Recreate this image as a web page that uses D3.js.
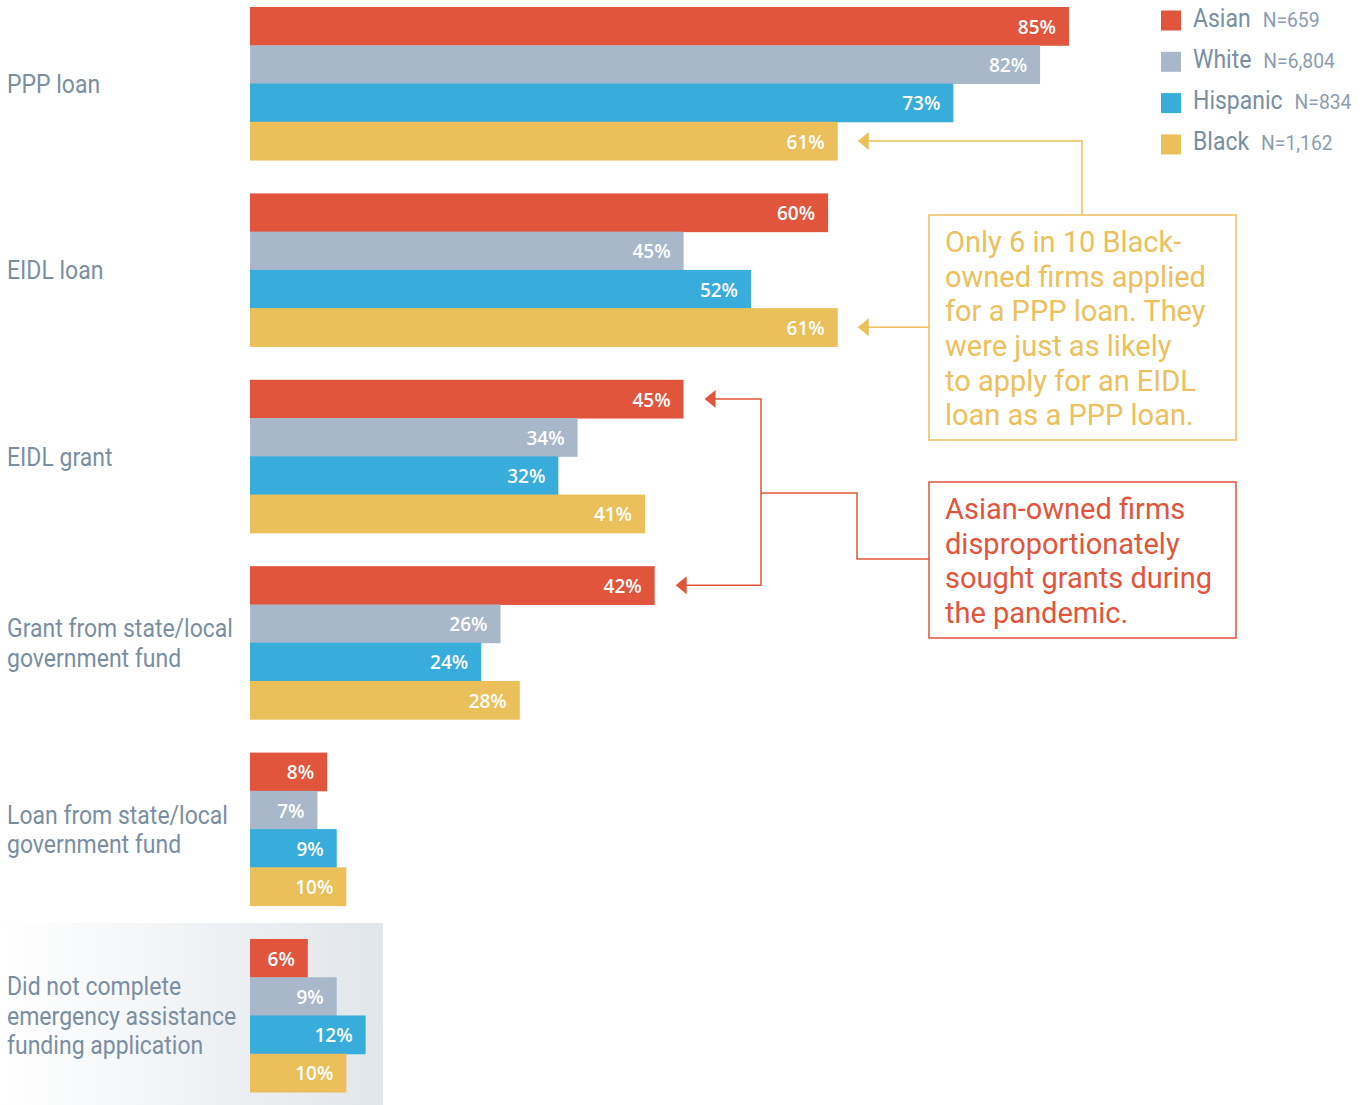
<!DOCTYPE html>
<html>
<head>
<meta charset="utf-8">
<script src="https://cdn.jsdelivr.net/npm/d3@7"></script>
<style>
  body { margin: 0; background: #fff; }
  text { font-family: Roboto, "Open Sans", sans-serif; }
</style>
</head>
<body>
<div id="chart"></div>
<script>
var categories = [
  ["PPP loan"],
  ["EIDL loan"],
  ["EIDL grant"],
  ["Grant from state/local", "government fund"],
  ["Loan from state/local", "government fund"],
  ["Did not complete", "emergency assistance", "funding application"]
];
var races = ["Asian", "White", "Hispanic", "Black"];
var raceN = ["N=659", "N=6,804", "N=834", "N=1,162"];
var raceColors = ["#e0553b", "#a9b7ca", "#38acdb", "#ebbf59"];

var asian    = [85, 60, 45, 42, 8, 6];
var white    = [82, 45, 34, 26, 7, 9];
var hispanic = [73, 52, 32, 24, 9, 12];
var black    = [61, 61, 41, 28, 10, 10];
var seriesVals = [asian, white, hispanic, black];

var note1 = ["Only 6 in 10 Black-", "owned firms applied", "for a PPP loan. They",
             "were just as likely", "to apply for an EIDL", "loan as a PPP loan."];
var note2 = ["Asian-owned firms", "disproportionately", "sought grants during", "the pandemic."];

var W = 1365, H = 1105;
var svg = d3.select("#chart").append("svg")
  .attr("width", W).attr("height", H);

var defs = svg.append("defs");
var grad = defs.append("linearGradient").attr("id", "bg").attr("x1", "0").attr("x2", "1");
grad.append("stop").attr("offset", "0").attr("stop-color", "#ffffff");
grad.append("stop").attr("offset", "1").attr("stop-color", "#e1e6ea");

var x = d3.scaleLinear().domain([0, 100]).range([250, 1213.5]);
var y = d3.scaleBand().domain(d3.range(categories.length))
  .range([7, 1092]).paddingInner(0.179).paddingOuter(0);
var yi = d3.scaleBand().domain(races).range([0, y.bandwidth()]);

// shaded box behind the last group
svg.append("rect")
  .attr("x", 0).attr("y", y(5) - 16)
  .attr("width", 383).attr("height", H - (y(5) - 16))
  .attr("fill", "url(#bg)");

var groups = svg.selectAll(".grp").data(categories).join("g")
  .attr("class", "grp")
  .attr("transform", function(d, i) { return "translate(0," + y(i) + ")"; });

groups.each(function(cat, ci) {
  var g = d3.select(this);
  races.forEach(function(r, ri) {
    var v = seriesVals[ri][ci];
    g.append("rect")
      .attr("x", x(0)).attr("y", yi(r))
      .attr("width", x(v) - x(0)).attr("height", yi.bandwidth() + 0.5)
      .attr("fill", raceColors[ri]);
    g.append("text")
      .attr("x", x(v) - 13).attr("y", yi(r) + yi.bandwidth() / 2)
      .attr("dy", "0.4em")
      .attr("text-anchor", "end")
      .style("font-family", "'Open Sans', sans-serif")
      .style("font-weight", 600)
      .style("font-size", "19px")
      .attr("fill", "#fff")
      .text(v + "%");
  });
  var lh = 29.5;
  var top = y.bandwidth() / 2 - (cat.length - 1) * lh / 2;
  cat.forEach(function(line, li) {
    g.append("text")
      .attr("transform", "translate(7," + (top + li * lh) + ") scale(0.92,1)")
      .attr("dy", "0.37em")
      .style("font-size", "25px")
      .attr("fill", "#7a8ea2")
      .text(line);
  });
});

// legend
var legend = svg.append("g");
races.forEach(function(r, i) {
  var ly = 20.5 + i * 41.3;
  legend.append("rect")
    .attr("x", 1161).attr("y", ly - 10).attr("width", 20).attr("height", 20)
    .attr("fill", raceColors[i]);
  var t = legend.append("text")
    .attr("transform", "translate(1193," + ly + ") scale(0.92,1)")
    .attr("dy", "0.38em");
  t.append("tspan").style("font-size", "25px").attr("fill", "#7a8ea2").text(r);
  t.append("tspan").attr("dx", "13").style("font-size", "21px").attr("fill", "#8c9db0").text(raceN[i]);
});

function arrow(color, tipX, tipY) {
  svg.append("path")
    .attr("d", "M" + tipX + "," + tipY + "l11,-9v18z")
    .attr("fill", color);
}

function noteBox(lines, color, bx, by, bw, bh) {
  svg.append("rect")
    .attr("x", bx).attr("y", by).attr("width", bw).attr("height", bh)
    .attr("fill", "#fff").attr("stroke", color).attr("stroke-width", 1.5);
  lines.forEach(function(l, i) {
    svg.append("text")
      .attr("x", bx + 16).attr("y", by + 27 + i * 34.6)
      .attr("dy", "0.35em")
      .style("font-size", "29px")
      .attr("fill", color)
      .text(l);
  });
}

// yellow note: Black PPP and Black EIDL loan
var yel = "#ecc05c";
var yB0 = y(0) + yi("Black") + yi.bandwidth() / 2;
var yB1 = y(1) + yi("Black") + yi.bandwidth() / 2;
var tip0 = x(black[0]) + 20, tip1 = x(black[1]) + 20;
svg.append("path")
  .attr("d", "M1082,215V" + yB0 + "H" + (tip0 + 8))
  .attr("fill", "none").attr("stroke", yel).attr("stroke-width", 1.5);
svg.append("path")
  .attr("d", "M929," + yB1 + "H" + (tip1 + 8))
  .attr("fill", "none").attr("stroke", yel).attr("stroke-width", 1.5);
arrow(yel, tip0, yB0);
arrow(yel, tip1, yB1);
noteBox(note1, yel, 929, 215, 307, 225);

// red note: Asian EIDL grant and state/local grant
var red = "#e0553b";
var yA2 = y(2) + yi("Asian") + yi.bandwidth() / 2;
var yA3 = y(3) + yi("Asian") + yi.bandwidth() / 2;
var tip2 = x(asian[2]) + 21, tip3 = x(asian[3]) + 21;
svg.append("path")
  .attr("d", "M" + (tip2 + 8) + "," + yA2 + "H761V" + yA3 + "H" + (tip3 + 8))
  .attr("fill", "none").attr("stroke", red).attr("stroke-width", 1.5);
svg.append("path")
  .attr("d", "M761,493H857V559H929")
  .attr("fill", "none").attr("stroke", red).attr("stroke-width", 1.5);
arrow(red, tip2, yA2);
arrow(red, tip3, yA3);
noteBox(note2, red, 929, 482, 307, 156);
</script>
</body>
</html>
